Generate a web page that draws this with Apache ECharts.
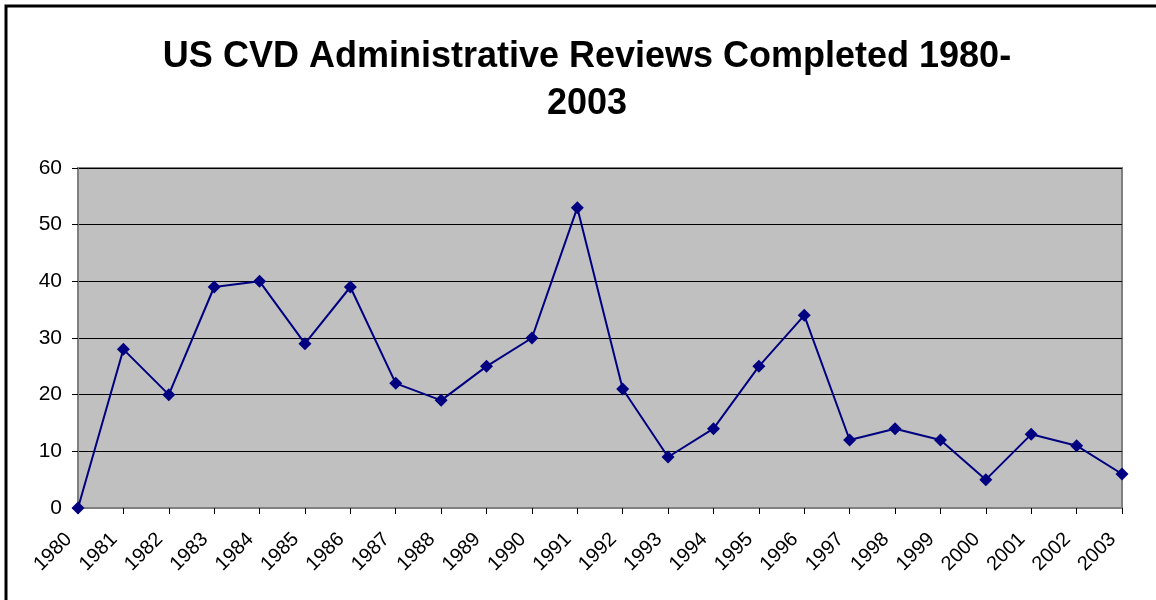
<!DOCTYPE html>
<html>
<head>
<meta charset="utf-8">
<script src="https://cdn.jsdelivr.net/npm/echarts@6/dist/echarts.min.js"></script>
<style>
  html, body { margin: 0; padding: 0; background: #fff; }
  #main { width: 1156px; height: 600px; }
</style>
</head>
<body>
<div id="main"></div>
<script>
// data
const years = ['1980', '1981', '1982', '1983', '1984', '1985', '1986', '1987', '1988', '1989', '1990', '1991',
  '1992', '1993', '1994', '1995', '1996', '1997', '1998', '1999', '2000', '2001', '2002', '2003'];
const reviews = [0, 28, 20, 39, 40, 29, 39, 22, 19, 25, 30, 53, 21, 9, 14, 25, 34, 12, 14, 12, 5, 13, 11, 6];

const chart = echarts.init(document.getElementById('main'));
const font = 'Liberation Sans, Arial, sans-serif';

chart.setOption({
  animation: false,
  textStyle: { fontFamily: font },
  title: {
    text: 'US CVD Administrative Reviews Completed 1980-\n2003',
    left: 582,
    textAlign: 'center',
    top: 29,
    textStyle: { fontSize: 36, fontWeight: 'bold', color: '#000', lineHeight: 47, fontFamily: font }
  },
  // outer frame (left and top edges visible)
  graphic: [{
    type: 'rect',
    shape: { x: 6, y: 6, width: 1200, height: 700 },
    style: { fill: 'none', stroke: '#000', lineWidth: 3 },
    silent: true
  }],
  grid: {
    left: 78, right: 34, top: 168, bottom: 92,
    show: true,
    backgroundColor: '#C0C0C0',
    borderColor: '#808080',
    borderWidth: 2
  },
  xAxis: {
    type: 'category',
    data: years,
    boundaryGap: false,
    axisLine: { lineStyle: { color: '#808080', width: 2 } },
    axisTick: { length: 6, lineStyle: { color: '#000' } },
    axisLabel: { rotate: 45, fontSize: 20, color: '#000', margin: 19, padding: [0, 13, 0, 0], fontFamily: font },
    splitLine: { show: false }
  },
  yAxis: {
    type: 'value',
    min: 0, max: 60, interval: 10,
    axisLine: { show: true, lineStyle: { color: '#808080', width: 2 } },
    axisTick: { show: true, length: 6, lineStyle: { color: '#000' } },
    axisLabel: { fontSize: 21, color: '#000', margin: 16, fontFamily: font },
    splitLine: { lineStyle: { color: '#000', width: 1 } }
  },
  series: [{
    type: 'line',
    data: reviews,
    symbol: 'diamond',
    symbolSize: 13,
    lineStyle: { color: '#000080', width: 2 },
    itemStyle: { color: '#000080' }
  }]
});
</script>
</body>
</html>
